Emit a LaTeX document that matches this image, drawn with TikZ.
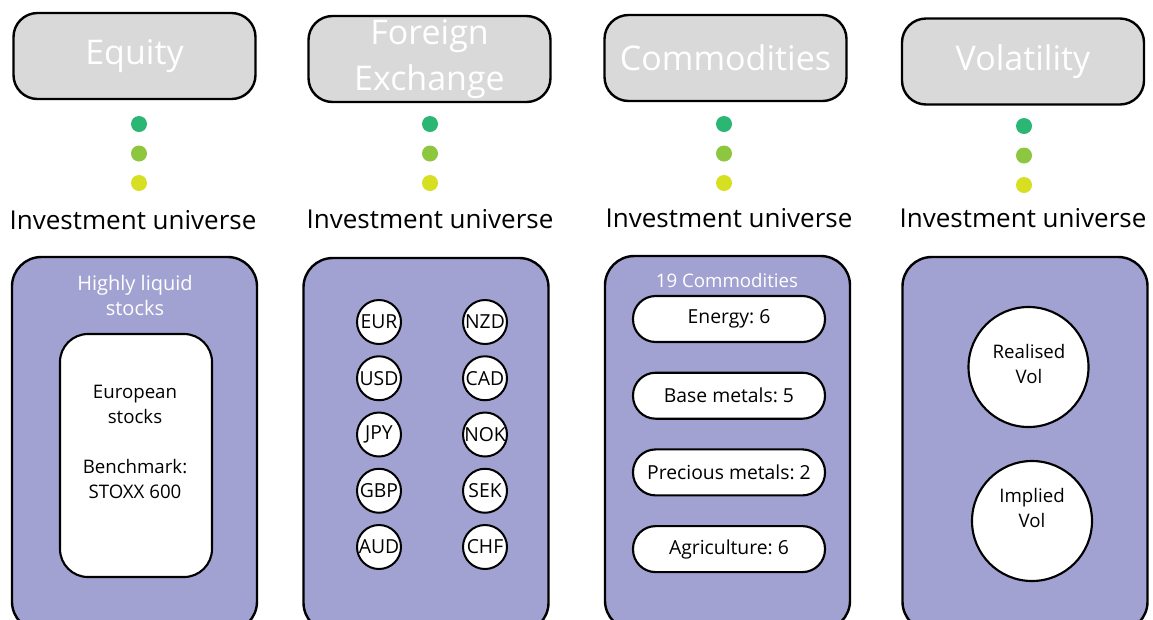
\documentclass[tikz,border=0pt]{standalone}
\usepackage{fontspec}
\setmainfont{Open Sans}
\usepackage{tikz}
\usetikzlibrary{positioning}
\frenchspacing

\definecolor{boxgray}{HTML}{D9D9D9}
\definecolor{boxpurple}{HTML}{A2A2D2}
\definecolor{dotA}{HTML}{2BB673}
\definecolor{dotB}{HTML}{8DC63F}
\definecolor{dotC}{HTML}{D7DF23}

\begin{document}
\begin{tikzpicture}[x=0.75pt,y=-0.75pt,
        asset/.style={draw=black, line width=1.8pt, fill=boxgray, rounded corners=18pt,
            minimum width=181.5pt, minimum height=64.5pt, inner sep=0pt,
            text=white, align=center, font=\fontsize{25.5}{34}\selectfont},
        universe/.style={draw=black, line width=1.8pt, fill=boxpurple, rounded corners=22pt,
            minimum width=183.75pt, minimum height=280.5pt},
        dot/.style={circle, minimum size=12pt, inner sep=0pt},
        univlabel/.style={font=\fontsize{19.5}{24}\selectfont},
        whitelabel/.style={text=white, align=center, font=\fontsize{15}{18.75}\selectfont},
        ccy/.style={circle, draw=black, line width=1.5pt, fill=white, minimum size=33pt,
            inner sep=0pt, font=\fontsize{14.5}{17}\selectfont},
        pill/.style={draw=black, line width=1.6pt, fill=white, rounded corners=17pt,
            minimum width=144pt, minimum height=34.5pt, inner sep=0pt,
            font=\fontsize{14.5}{17}\selectfont},
        volcircle/.style={circle, draw=black, line width=1.6pt, fill=white, minimum size=90pt,
            inner sep=0pt},
        voltext/.style={align=center, font=\fontsize{14}{18.5}\selectfont}]
        \useasboundingbox (0,0) rectangle (1153,619);
        \clip (0,0) rectangle (1153,619);

        % Draw the asset class headers
        \node[asset] (eq-head) at (134.5,56) {Equity};
        \node[asset] (fx-head) at (429.5,59) {Foreign\\Exchange};
        \node[asset] (co-head) at (725.5,58) {Commodities};
        \node[asset] (vo-head) at (1023,61.5) {Volatility};

        % Add the three dots below each header
        \foreach \col/\x/\y in {eq/139/124, fx/430/124, co/724/124, vo/1024/126} {
            \node[dot, fill=dotA] (\col-dotA) at (\x,\y) {};
            \node[dot, fill=dotB] (\col-dotB) at (\x,\y+29.5) {};
            \node[dot, fill=dotC] (\col-dotC) at (\x,\y+59) {};
        }

        % Investment universe labels
        \foreach \col/\x/\y in {eq/133/220, fx/430/219, co/729/218, vo/1023/218}
            \node[univlabel] (\col-univ) at (\x,\y) {Investment universe};

        % Draw the universe boxes
        \node[universe] (eq-box) at (134.5,444) {};
        \node[universe] (fx-box) at (426,445) {};
        \node[universe] (co-box) at (727.5,443) {};
        \node[universe] (vo-box) at (1025,444) {};

        % Equity: stocks
        \node[whitelabel] (eq-label) at (135,295) {Highly liquid\\stocks};
        \node[draw=black, line width=1.6pt, fill=white, rounded corners=21pt,
            minimum width=114pt, minimum height=182.25pt] (eq-inner) at (136,455.5) {};
        \node[align=center, font=\fontsize{14}{18.75}\selectfont] (eq-text) at (135,442)
            {European\\stocks\\[18.75pt]Benchmark:\\STOXX 600};

        % Foreign exchange: currencies
        \foreach \cur [count=\i from 0] in {EUR,USD,JPY,GBP,AUD}
            \node[ccy] (\cur) at (379,322+\i*56.25) {\cur};
        \foreach \cur [count=\i from 0] in {NZD,CAD,NOK,SEK,CHF}
            \node[ccy] (\cur) at (485,322+\i*56.25) {\cur};

        % Commodities: sectors
        \node[whitelabel, font=\fontsize{14}{17}\selectfont] (co-label) at (727,280) {19 Commodities};
        \foreach \lab/\nm [count=\i from 0] in {Energy: 6/energy, Base metals: 5/base,
                Precious metals: 2/precious, Agriculture: 6/agri}
            \node[pill] (\nm) at (729,319+\i*76.7) {\lab};

        % Volatility: realised and implied
        \node[volcircle] (realised) at (1028.5,367) {};
        \node[voltext] (realised-text) at (1029,364) {Realised\\Vol};
        \node[volcircle] (implied) at (1032,521) {};
        \node[voltext] (implied-text) at (1032,508) {Implied\\Vol};
    \end{tikzpicture}
\end{document}
